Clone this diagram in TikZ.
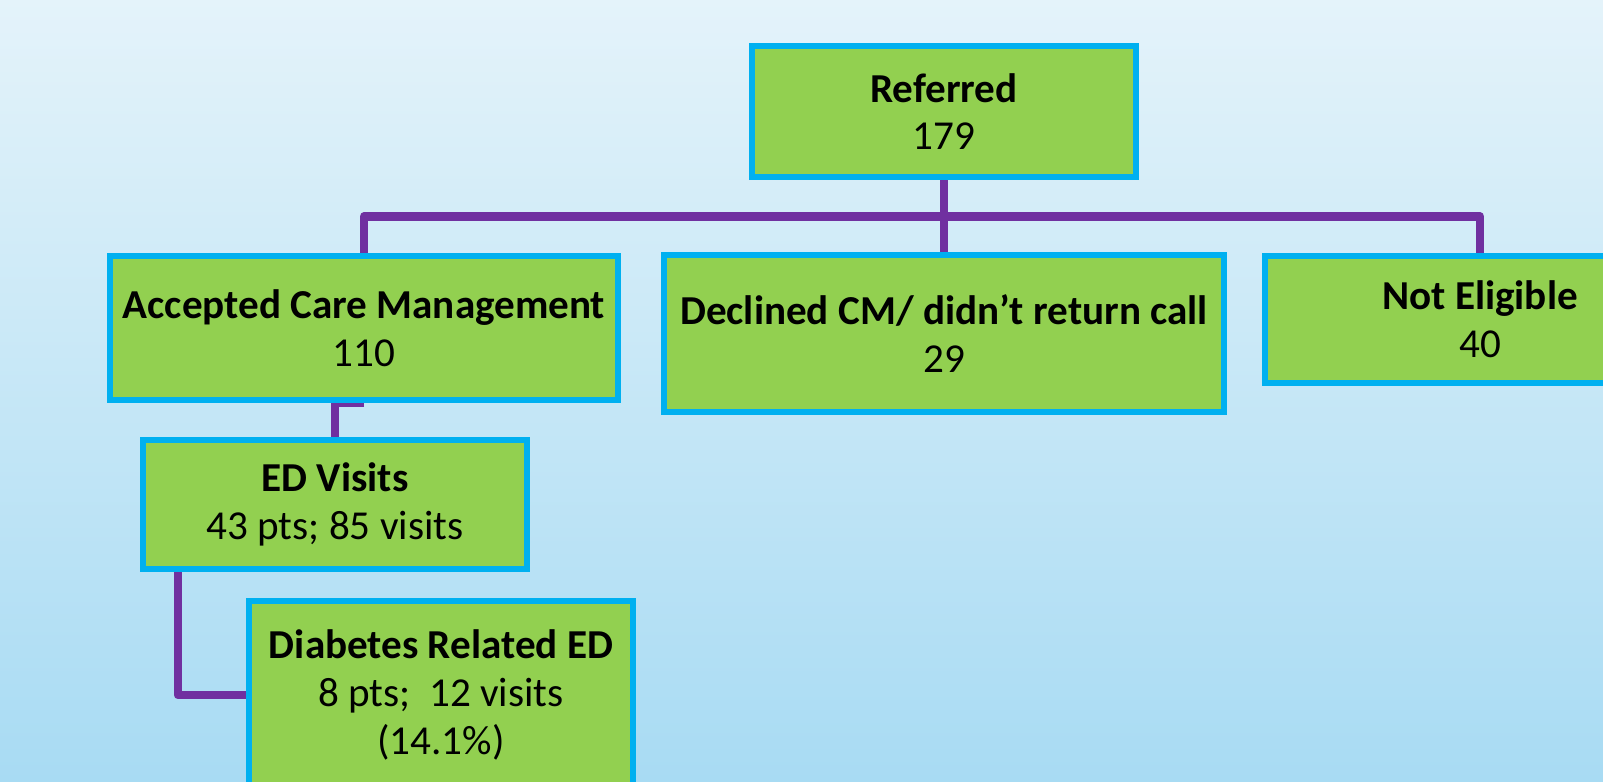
\documentclass[tikz,border=0pt]{standalone}
\usepackage{fontspec}
\setmainfont{Carlito}
\usetikzlibrary{backgrounds}
\definecolor{boxgreen}{RGB}{146,208,80}
\definecolor{boxblue}{RGB}{0,176,240}
\definecolor{linkpurple}{RGB}{112,48,160}
\definecolor{skytop}{RGB}{228,243,250}
\definecolor{skymid}{RGB}{206,236,249}
\definecolor{skybottom}{RGB}{168,219,243}

\begin{document}
\begin{tikzpicture}[every node/.style={align=center},
    stagebox/.style={draw=boxblue, fill=boxgreen, line width=1.7pt, inner sep=0pt,
        font=\fontsize{11.7}{13.6}\selectfont},
    flowline/.style={draw=linkpurple, line width=2.5pt, line join=round}]
    \useasboundingbox (0,0) rectangle (16.03,7.81);
    \clip (0,0) rectangle (16.03,7.81);

    \node[stagebox, minimum width=3.84cm, minimum height=1.31cm] (referred) at (9.44,6.695)
        {\textbf{Referred}\\179};
    \coordinate (split) at (9.44,5.645);

    \node[stagebox, minimum width=5.08cm, minimum height=1.44cm] (accepted) at (3.64,4.53)
        {\textbf{Accepted Care Management}\\110};
    \node[stagebox, minimum width=5.60cm, minimum height=1.57cm] (declined) at (9.44,4.475)
        {\textbf{Declined CM/ didn’t return call}\\29};
    \node[stagebox, minimum width=4.30cm, minimum height=1.27cm] (noteligible) at (14.80,4.615)
        {\textbf{Not Eligible}\\40};

    \node[stagebox, minimum width=3.84cm, minimum height=1.29cm] (edvisits) at (3.35,2.765)
        {\textbf{ED Visits}\\43 pts; 85 visits};
    \node[stagebox, minimum width=3.84cm, minimum height=1.88cm] (diabetes) at (4.41,0.86)
        {\textbf{Diabetes Related ED}\\8 pts;~ 12 visits\\(14.1\%)};

    \begin{pgfonlayer}{background}
        \shade[top color=skytop, middle color=skymid, bottom color=skybottom]
            (0,0) rectangle (16.03,7.81);

        \draw[flowline] (referred.south) -- (declined.north);
        \draw[flowline] (accepted.north) |- (split) -| (noteligible.north);
        \draw[flowline] (accepted.south) -| (edvisits.north);
        \draw[flowline] ([xshift=0.38cm]edvisits.south west) |- (diabetes.west);
    \end{pgfonlayer}
\end{tikzpicture}
\end{document}
